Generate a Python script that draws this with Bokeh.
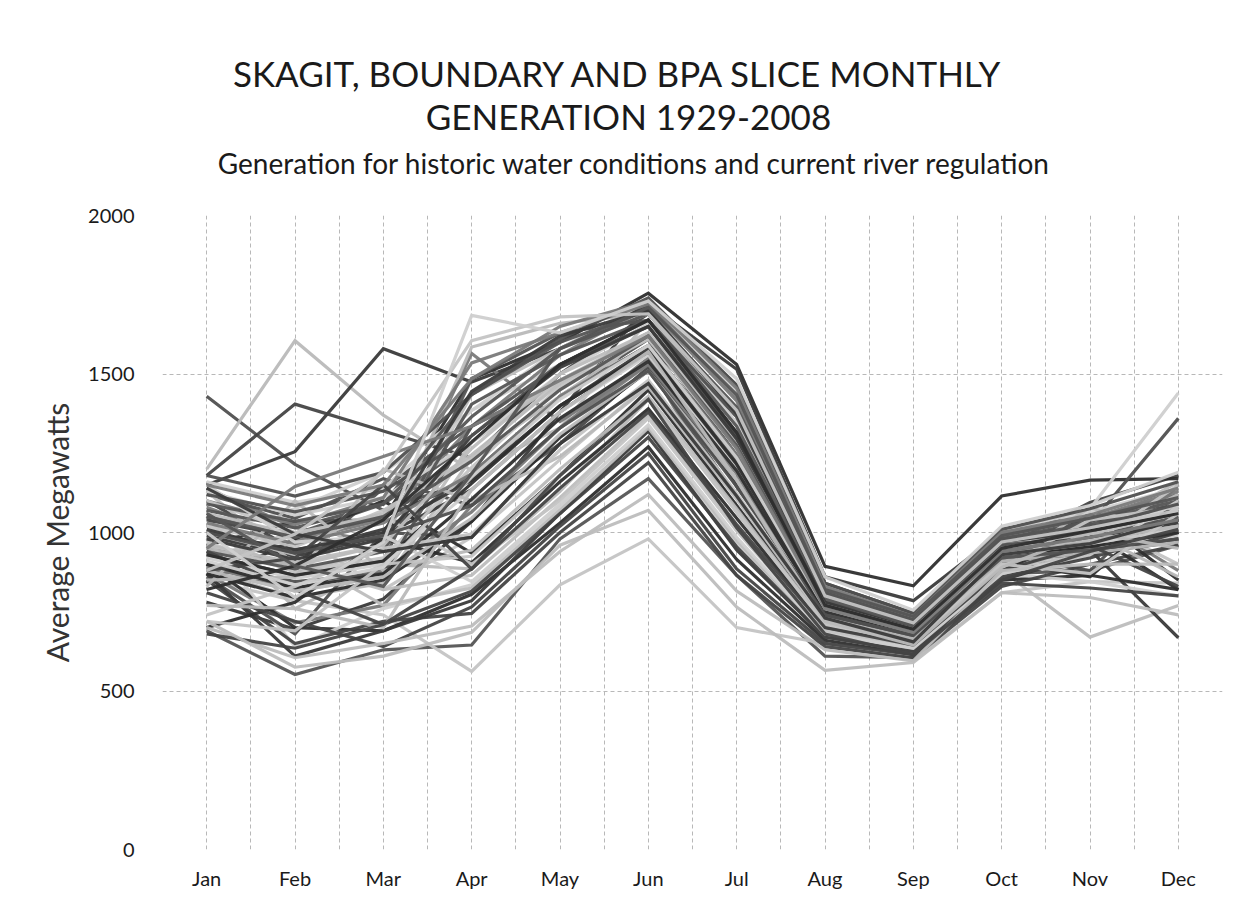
from bokeh.plotting import figure
from bokeh.models import FixedTicker, Range1d
from bokeh.layouts import column
from bokeh.core.properties import value
from bokeh.embed import file_html
from bokeh.resources import INLINE

months = ["Jan", "Feb", "Mar", "Apr", "May", "Jun", "Jul", "Aug", "Sep", "Oct", "Nov", "Dec"]
month_pos = list(range(1, 13))
y_ticks = [0, 500, 1000, 1500, 2000]

title_lines = ["SKAGIT, BOUNDARY AND BPA SLICE MONTHLY", "GENERATION 1929-2008",
               "Generation for historic water conditions and current river regulation"]

# Average megawatts per month, one list per water year
y1929 = [1430, 1215, 1070, 1165, 1430, 1610, 1145, 760, 675, 880, 955, 1070]
y1930 = [1200, 1605, 1370, 1195, 1330, 1670, 1295, 780, 705, 930, 1005, 1160]
y1931 = [1150, 1255, 1580, 1475, 1580, 1720, 1465, 840, 745, 970, 1035, 1120]
y1932 = [1180, 1405, 1320, 1235, 1500, 1690, 1385, 810, 715, 950, 1095, 1180]
y1933 = [1140, 1015, 970, 1565, 1350, 1530, 1065, 720, 655, 900, 1050, 880]
y1934 = [960, 1035, 1040, 1485, 1600, 1755, 1530, 893, 832, 1115, 1165, 1170]
y1935 = [690, 552, 630, 645, 980, 1170, 865, 610, 605, 870, 880, 960]
y1936 = [850, 785, 740, 562, 835, 980, 700, 650, 595, 810, 845, 840]
y1937 = [900, 815, 860, 1285, 1480, 1570, 1215, 760, 675, 880, 670, 770]
y1938 = [1000, 1075, 1190, 1385, 1530, 1650, 1265, 740, 675, 950, 1075, 1440]
y1939 = [950, 895, 1140, 1335, 1480, 1620, 1245, 760, 695, 920, 1025, 1360]
y1940 = [1050, 760, 900, 885, 1130, 1420, 1065, 700, 645, 880, 990, 1100]
y1941 = [780, 695, 790, 1035, 1380, 1720, 1515, 860, 785, 1000, 945, 668]
y1942 = [1100, 945, 990, 1185, 1430, 1590, 1315, 780, 695, 960, 995, 1040]
y1943 = [870, 715, 770, 1085, 1330, 1550, 1165, 720, 655, 910, 870, 1080]
y1944 = [900, 700, 690, 805, 1030, 1270, 915, 660, 615, 850, 865, 820]
y1945 = [1050, 995, 1090, 1285, 1530, 1670, 1365, 800, 715, 980, 1025, 1090]
y1946 = [920, 1000, 820, 985, 1230, 1470, 1115, 740, 675, 900, 1040, 900]
y1947 = [1000, 875, 940, 1435, 1580, 1690, 1345, 790, 715, 990, 1005, 1060]
y1948 = [980, 640, 760, 835, 1080, 1320, 965, 680, 635, 870, 845, 800]
y1949 = [1120, 1045, 1170, 1085, 1280, 1520, 1115, 730, 655, 930, 880, 1150]
y1950 = [880, 795, 840, 1235, 1430, 1620, 1265, 770, 695, 950, 985, 1030]
y1951 = [990, 925, 990, 1135, 1380, 1570, 1215, 750, 685, 920, 955, 1000]
y1952 = [850, 650, 720, 745, 1000, 1220, 865, 640, 605, 830, 900, 960]
y1953 = [1080, 975, 1040, 1335, 1560, 1710, 1415, 810, 725, 990, 1045, 1120]
y1954 = [840, 980, 1100, 935, 1180, 1450, 1085, 720, 655, 890, 1060, 850]
y1955 = [930, 865, 910, 1485, 1630, 1670, 1315, 780, 705, 960, 975, 1040]
y1956 = [1020, 955, 1070, 1235, 1480, 1630, 1285, 760, 695, 940, 1015, 1070]
y1957 = [1130, 900, 820, 865, 1110, 1370, 1015, 690, 645, 880, 980, 1120]
y1958 = [1160, 1095, 1140, 1385, 1580, 1730, 1445, 830, 735, 1010, 1065, 1140]
y1959 = [860, 680, 1000, 985, 1280, 1520, 1165, 730, 665, 910, 935, 970]
y1960 = [950, 895, 960, 1585, 1660, 1690, 1365, 790, 715, 970, 995, 1050]
y1961 = [870, 610, 690, 785, 1060, 1320, 945, 670, 625, 850, 930, 1000]
y1962 = [1040, 985, 1050, 1165, 1400, 1570, 1225, 750, 685, 930, 965, 1010]
y1963 = [890, 825, 880, 1065, 1330, 1530, 1185, 740, 675, 910, 945, 980]
y1964 = [700, 780, 980, 905, 1160, 1390, 1045, 700, 645, 880, 1000, 820]
y1965 = [1070, 1015, 1090, 1435, 1600, 1700, 1385, 810, 725, 980, 1035, 1100]
y1966 = [970, 875, 920, 1205, 1460, 1610, 1265, 760, 695, 940, 975, 1020]
y1967 = [1000, 930, 770, 825, 1070, 1330, 975, 680, 635, 860, 950, 1060]
y1968 = [1130, 1055, 1110, 1285, 1500, 1660, 1345, 800, 715, 970, 1005, 1080]
y1969 = [900, 845, 870, 1335, 1530, 1650, 1305, 780, 705, 950, 985, 1040]
y1970 = [830, 1100, 880, 945, 1200, 1430, 1075, 710, 655, 890, 1080, 980]
y1971 = [1010, 935, 1010, 1165, 1400, 1580, 1235, 750, 685, 930, 955, 1000]
y1972 = [810, 720, 640, 765, 1020, 1250, 885, 650, 615, 840, 825, 800]
y1973 = [1100, 1025, 1110, 1535, 1630, 1720, 1425, 820, 735, 1000, 1045, 1130]
y1974 = [870, 795, 850, 1035, 1300, 1510, 1155, 730, 665, 910, 860, 1100]
y1975 = [940, 885, 940, 1405, 1560, 1670, 1335, 790, 705, 960, 985, 1050]
y1976 = [1100, 1000, 1050, 900, 1100, 1360, 1005, 690, 645, 870, 960, 1150]
y1977 = [1060, 995, 1060, 1245, 1470, 1630, 1285, 770, 695, 950, 995, 1060]
y1978 = [920, 855, 900, 1135, 1380, 1560, 1205, 750, 675, 920, 945, 990]
y1979 = [1180, 1115, 1190, 1435, 1610, 1740, 1465, 840, 745, 1010, 1075, 1160]
y1980 = [850, 860, 1200, 1100, 1240, 1460, 1105, 720, 655, 900, 1000, 860]
y1981 = [980, 915, 980, 1305, 1520, 1650, 1295, 780, 695, 950, 985, 1030]
y1982 = [940, 820, 710, 815, 1060, 1300, 955, 670, 625, 860, 920, 1000]
y1983 = [1030, 965, 1030, 1185, 1430, 1590, 1245, 760, 685, 940, 975, 1020]
y1984 = [900, 825, 870, 1105, 1360, 1540, 1195, 740, 675, 910, 935, 980]
y1985 = [1090, 1035, 1090, 1365, 1580, 1690, 1395, 810, 725, 980, 1025, 1090]
y1986 = [720, 690, 900, 925, 1180, 1420, 1065, 710, 655, 890, 1040, 1080]
y1987 = [960, 905, 960, 1265, 1500, 1630, 1275, 770, 695, 950, 975, 1020]
y1988 = [1150, 970, 990, 845, 1090, 1340, 985, 680, 635, 870, 930, 1100]
y1989 = [1120, 1065, 1130, 1305, 1530, 1670, 1365, 800, 715, 970, 1015, 1090]
y1990 = [880, 815, 860, 1045, 1310, 1510, 1165, 730, 665, 910, 935, 970]
y1991 = [1000, 945, 1000, 1445, 1620, 1700, 1375, 800, 715, 970, 1005, 1060]
y1992 = [880, 920, 1150, 885, 1140, 1380, 1025, 700, 645, 880, 960, 830]
y1993 = [1150, 1085, 1150, 1485, 1650, 1730, 1455, 830, 735, 1000, 1055, 1140]
y1994 = [930, 865, 910, 1155, 1400, 1570, 1215, 750, 685, 930, 955, 1000]
y1995 = [1050, 985, 1050, 1225, 1450, 1620, 1275, 770, 695, 940, 985, 1040]
y1996 = [740, 830, 950, 995, 1260, 1480, 1125, 720, 655, 900, 870, 1060]
y1997 = [700, 605, 650, 705, 940, 1120, 815, 630, 595, 880, 900, 900]
y1998 = [910, 835, 890, 1175, 1420, 1590, 1235, 760, 685, 930, 965, 1010]
y1999 = [1000, 935, 990, 1085, 1330, 1510, 1145, 740, 675, 920, 945, 980]
y2000 = [770, 760, 700, 1135, 1380, 1570, 1165, 720, 645, 890, 1000, 950]
y2001 = [1140, 995, 940, 985, 1280, 1470, 1115, 730, 655, 930, 965, 1040]
y2002 = [680, 635, 710, 885, 1180, 1420, 1015, 680, 615, 850, 940, 1010]
y2003 = [950, 1145, 1240, 1335, 1480, 1620, 1265, 760, 685, 940, 985, 1040]
y2004 = [820, 895, 1040, 1285, 1530, 1670, 1315, 770, 695, 950, 1005, 1060]
y2005 = [1060, 895, 830, 1185, 1580, 1710, 1435, 820, 735, 990, 1045, 1110]
y2006 = [880, 995, 1190, 1605, 1680, 1690, 1385, 800, 715, 970, 1015, 1070]
y2007 = [720, 575, 610, 685, 960, 1070, 765, 565, 590, 810, 795, 740]
y2008 = [1000, 795, 970, 1685, 1630, 1730, 1485, 860, 755, 1020, 1085, 1190]

series = [y1929, y1930, y1931, y1932, y1933, y1934, y1935, y1936, y1937, y1938,
          y1939, y1940, y1941, y1942, y1943, y1944, y1945, y1946, y1947, y1948,
          y1949, y1950, y1951, y1952, y1953, y1954, y1955, y1956, y1957, y1958,
          y1959, y1960, y1961, y1962, y1963, y1964, y1965, y1966, y1967, y1968,
          y1969, y1970, y1971, y1972, y1973, y1974, y1975, y1976, y1977, y1978,
          y1979, y1980, y1981, y1982, y1983, y1984, y1985, y1986, y1987, y1988,
          y1989, y1990, y1991, y1992, y1993, y1994, y1995, y1996, y1997, y1998,
          y1999, y2000, y2001, y2002, y2003, y2004, y2005, y2006, y2007, y2008]

shades = ["#505050", "#b9b9b9", "#3a3a3a", "#444444", "#7a7a7a",
          "#2e2e2e", "#555555", "#c4c4c4", "#bdbdbd", "#cfcfcf"]

FONT = "Lato"
W = 1239
TITLE_H = 180
FRAME_L, FRAME_R = 162, 1222   # frame edges (shared by both figures through column alignment)

# ---- title strip (text drawn in its own svg figure) ----
t = figure(width=W, height=TITLE_H, output_backend="svg", toolbar_location=None,
           x_range=Range1d(FRAME_L, FRAME_R), y_range=Range1d(TITLE_H, 0),
           x_axis_location=None, y_axis_location=None,
           min_border_left=FRAME_L, min_border_right=W - FRAME_R,
           min_border_top=0, min_border_bottom=0,
           outline_line_color=None, background_fill_color="white",
           border_fill_color="white")
t.grid.visible = False
t.text(x=[618, 628], y=[72, 115], text=title_lines[:2], text_font=value(FONT),
       text_font_size="35px", text_align="center", text_baseline="middle",
       text_color="#1a1a1a")
t.text(x=[634], y=[162], text=title_lines[2:], text_font=value(FONT),
       text_font_size="28px", text_align="center", text_baseline="middle",
       text_color="#1a1a1a")

# ---- main chart ----
p = figure(width=W, height=905 - TITLE_H, output_backend="svg", toolbar_location=None,
           x_range=Range1d(0.5, 12.5), y_range=Range1d(0, 2000),
           min_border_left=FRAME_L, min_border_right=W - FRAME_R,
           min_border_top=215 - TITLE_H, min_border_bottom=905 - 849,
           background_fill_color="white", border_fill_color="white")
p.outline_line_color = None

for i, vals in enumerate(series):
    p.line(month_pos, vals, line_color=shades[i % len(shades)], line_width=3.2,
           line_alpha=0.95, line_join="miter")

p.xgrid.ticker = FixedTicker(ticks=[0.5 + 0.5 * k for k in range(25)])
p.ygrid.ticker = FixedTicker(ticks=y_ticks)
for g in (p.xgrid, p.ygrid):
    g.grid_line_color = "#b8b8b8"
    g.grid_line_dash = "4 3"
    g.grid_line_width = 1

p.xaxis.ticker = FixedTicker(ticks=month_pos)
p.xaxis.major_label_overrides = {m: lab for m, lab in zip(month_pos, months)}
p.yaxis.ticker = FixedTicker(ticks=y_ticks)
for ax in (p.xaxis, p.yaxis):
    ax.axis_line_color = None
    ax.major_tick_line_color = None
    ax.minor_tick_line_color = None
    ax.major_label_text_font = FONT
    ax.major_label_text_font_size = "20px"
    ax.major_label_text_color = "#1a1a1a"
p.xaxis.major_label_standoff = 10
p.yaxis.major_label_standoff = 22
p.yaxis.axis_label = "Average Megawatts"
p.yaxis.axis_label_text_font = FONT
p.yaxis.axis_label_text_font_size = "30px"
p.yaxis.axis_label_text_font_style = "normal"
p.yaxis.axis_label_text_color = "#333333"
p.yaxis.axis_label_standoff = 10

layout = column(t, p, spacing=0)
open("out.html", "w").write(file_html(layout, INLINE))
